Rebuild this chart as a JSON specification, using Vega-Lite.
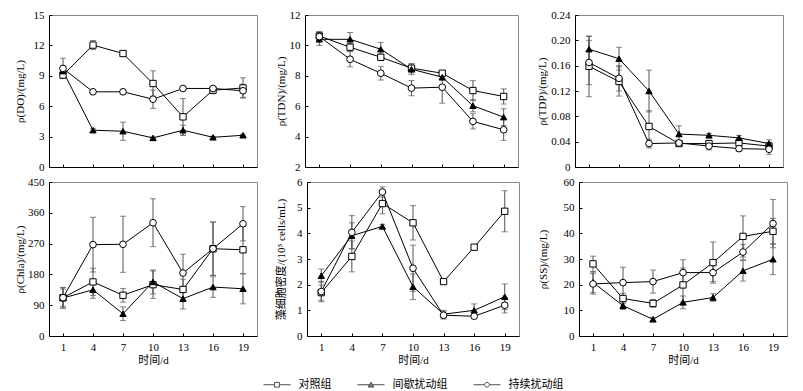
{
"$schema":"https://vega.github.io/schema/vega-lite/v6.json",
"padding":{"left":13,"top":8,"right":5,"bottom":0},
"background":"white",
"config":{
 "view":{"stroke":"#888","strokeWidth":1},
 "axis":{"labelFont":"Liberation Serif","labelFontSize":11,"labelColor":"black","titleFont":"Liberation Serif, Noto Sans CJK SC","titleFontSize":11,"titleFontWeight":"normal","titleColor":"black","tickSize":-3,"tickColor":"black","domainColor":"black","grid":false,"labelPadding":8,"labelOverlap":false},
 "legend":{"labelFont":"Noto Sans CJK SC","labelFontSize":11,"labelColor":"black","symbolSize":36,"labelOffset":16,"columnPadding":24,"padding":0}
},
"data":{"values":[
{"p":"DO","g":"对照组","d":1,"v":9.07,"lo":8.77,"hi":9.37},
{"p":"DO","g":"对照组","d":4,"v":12.03,"lo":11.58,"hi":12.48},
{"p":"DO","g":"对照组","d":7,"v":11.2,"lo":11.05,"hi":11.35},
{"p":"DO","g":"对照组","d":10,"v":8.24,"lo":6.99,"hi":9.49},
{"p":"DO","g":"对照组","d":13,"v":4.95,"lo":3.15,"hi":6.75},
{"p":"DO","g":"对照组","d":16,"v":7.58,"lo":7.23,"hi":7.93},
{"p":"DO","g":"对照组","d":19,"v":7.8,"lo":6.8,"hi":8.8},
{"p":"DO","g":"间歇扰动组","d":1,"v":9.46,"lo":9.16,"hi":9.76},
{"p":"DO","g":"间歇扰动组","d":4,"v":3.63,"lo":3.48,"hi":3.78},
{"p":"DO","g":"间歇扰动组","d":7,"v":3.53,"lo":2.63,"hi":4.43},
{"p":"DO","g":"间歇扰动组","d":10,"v":2.87,"lo":2.77,"hi":2.97},
{"p":"DO","g":"间歇扰动组","d":13,"v":3.63,"lo":3.13,"hi":4.13},
{"p":"DO","g":"间歇扰动组","d":16,"v":2.93,"lo":2.83,"hi":3.03},
{"p":"DO","g":"间歇扰动组","d":19,"v":3.13,"lo":3.03,"hi":3.23},
{"p":"DO","g":"持续扰动组","d":1,"v":9.73,"lo":8.73,"hi":10.73},
{"p":"DO","g":"持续扰动组","d":4,"v":7.42,"lo":7.32,"hi":7.52},
{"p":"DO","g":"持续扰动组","d":7,"v":7.42,"lo":7.32,"hi":7.52},
{"p":"DO","g":"持续扰动组","d":10,"v":6.69,"lo":5.79,"hi":7.59},
{"p":"DO","g":"持续扰动组","d":13,"v":7.75,"lo":7.6,"hi":7.9},
{"p":"DO","g":"持续扰动组","d":16,"v":7.75,"lo":7.6,"hi":7.9},
{"p":"DO","g":"持续扰动组","d":19,"v":7.52,"lo":6.87,"hi":8.17},
{"p":"TDN","g":"对照组","d":1,"v":10.62,"lo":10.32,"hi":10.92},
{"p":"TDN","g":"对照组","d":4,"v":9.88,"lo":9.63,"hi":10.13},
{"p":"TDN","g":"对照组","d":7,"v":9.22,"lo":9.02,"hi":9.42},
{"p":"TDN","g":"对照组","d":10,"v":8.5,"lo":8.2,"hi":8.8},
{"p":"TDN","g":"对照组","d":13,"v":8.17,"lo":8.02,"hi":8.32},
{"p":"TDN","g":"对照组","d":16,"v":7.03,"lo":6.38,"hi":7.68},
{"p":"TDN","g":"对照组","d":19,"v":6.64,"lo":6.14,"hi":7.14},
{"p":"TDN","g":"间歇扰动组","d":1,"v":10.4,"lo":10.0,"hi":10.8},
{"p":"TDN","g":"间歇扰动组","d":4,"v":10.4,"lo":9.95,"hi":10.85},
{"p":"TDN","g":"间歇扰动组","d":7,"v":9.75,"lo":9.3,"hi":10.2},
{"p":"TDN","g":"间歇扰动组","d":10,"v":8.43,"lo":8.08,"hi":8.78},
{"p":"TDN","g":"间歇扰动组","d":13,"v":7.91,"lo":7.71,"hi":8.11},
{"p":"TDN","g":"间歇扰动组","d":16,"v":6.03,"lo":5.63,"hi":6.43},
{"p":"TDN","g":"间歇扰动组","d":19,"v":5.28,"lo":4.73,"hi":5.83},
{"p":"TDN","g":"持续扰动组","d":1,"v":10.58,"lo":10.28,"hi":10.88},
{"p":"TDN","g":"持续扰动组","d":4,"v":9.09,"lo":8.59,"hi":9.59},
{"p":"TDN","g":"持续扰动组","d":7,"v":8.17,"lo":7.72,"hi":8.62},
{"p":"TDN","g":"持续扰动组","d":10,"v":7.19,"lo":6.69,"hi":7.69},
{"p":"TDN","g":"持续扰动组","d":13,"v":7.25,"lo":6.2,"hi":8.3},
{"p":"TDN","g":"持续扰动组","d":16,"v":5.0,"lo":4.5,"hi":5.5},
{"p":"TDN","g":"持续扰动组","d":19,"v":4.45,"lo":3.75,"hi":5.15},
{"p":"TDP","g":"对照组","d":1,"v":0.159,"lo":0.111,"hi":0.207},
{"p":"TDP","g":"对照组","d":4,"v":0.135,"lo":0.112,"hi":0.158},
{"p":"TDP","g":"对照组","d":7,"v":0.064,"lo":0.039,"hi":0.089},
{"p":"TDP","g":"对照组","d":10,"v":0.037,"lo":0.033,"hi":0.041},
{"p":"TDP","g":"对照组","d":13,"v":0.037,"lo":0.032,"hi":0.042},
{"p":"TDP","g":"对照组","d":16,"v":0.038,"lo":0.033,"hi":0.043},
{"p":"TDP","g":"对照组","d":19,"v":0.033,"lo":0.027,"hi":0.039},
{"p":"TDP","g":"间歇扰动组","d":1,"v":0.186,"lo":0.166,"hi":0.206},
{"p":"TDP","g":"间歇扰动组","d":4,"v":0.171,"lo":0.153,"hi":0.189},
{"p":"TDP","g":"间歇扰动组","d":7,"v":0.120,"lo":0.087,"hi":0.153},
{"p":"TDP","g":"间歇扰动组","d":10,"v":0.052,"lo":0.039,"hi":0.065},
{"p":"TDP","g":"间歇扰动组","d":13,"v":0.050,"lo":0.047,"hi":0.053},
{"p":"TDP","g":"间歇扰动组","d":16,"v":0.046,"lo":0.042,"hi":0.050},
{"p":"TDP","g":"间歇扰动组","d":19,"v":0.037,"lo":0.031,"hi":0.043},
{"p":"TDP","g":"持续扰动组","d":1,"v":0.165,"lo":0.130,"hi":0.200},
{"p":"TDP","g":"持续扰动组","d":4,"v":0.140,"lo":0.120,"hi":0.160},
{"p":"TDP","g":"持续扰动组","d":7,"v":0.037,"lo":0.030,"hi":0.044},
{"p":"TDP","g":"持续扰动组","d":10,"v":0.038,"lo":0.034,"hi":0.042},
{"p":"TDP","g":"持续扰动组","d":13,"v":0.033,"lo":0.027,"hi":0.039},
{"p":"TDP","g":"持续扰动组","d":16,"v":0.029,"lo":0.025,"hi":0.033},
{"p":"TDP","g":"持续扰动组","d":19,"v":0.028,"lo":0.020,"hi":0.036},
{"p":"Chla","g":"对照组","d":1,"v":112,"lo":82,"hi":142},
{"p":"Chla","g":"对照组","d":4,"v":158,"lo":118,"hi":198},
{"p":"Chla","g":"对照组","d":7,"v":119,"lo":99,"hi":139},
{"p":"Chla","g":"对照组","d":10,"v":150,"lo":110,"hi":190},
{"p":"Chla","g":"对照组","d":13,"v":136,"lo":106,"hi":166},
{"p":"Chla","g":"对照组","d":16,"v":255,"lo":177,"hi":333},
{"p":"Chla","g":"对照组","d":19,"v":252,"lo":182,"hi":322},
{"p":"Chla","g":"间歇扰动组","d":1,"v":111,"lo":81,"hi":141},
{"p":"Chla","g":"间歇扰动组","d":4,"v":135,"lo":110,"hi":160},
{"p":"Chla","g":"间歇扰动组","d":7,"v":65,"lo":45,"hi":85},
{"p":"Chla","g":"间歇扰动组","d":10,"v":158,"lo":123,"hi":193},
{"p":"Chla","g":"间歇扰动组","d":13,"v":109,"lo":79,"hi":139},
{"p":"Chla","g":"间歇扰动组","d":16,"v":143,"lo":113,"hi":173},
{"p":"Chla","g":"间歇扰动组","d":19,"v":138,"lo":94,"hi":182},
{"p":"Chla","g":"持续扰动组","d":1,"v":112,"lo":87,"hi":137},
{"p":"Chla","g":"持续扰动组","d":4,"v":267,"lo":187,"hi":347},
{"p":"Chla","g":"持续扰动组","d":7,"v":268,"lo":186,"hi":350},
{"p":"Chla","g":"持续扰动组","d":10,"v":331,"lo":261,"hi":401},
{"p":"Chla","g":"持续扰动组","d":13,"v":184,"lo":129,"hi":239},
{"p":"Chla","g":"持续扰动组","d":16,"v":255,"lo":177,"hi":333},
{"p":"Chla","g":"持续扰动组","d":19,"v":328,"lo":278,"hi":378},
{"p":"Algae","g":"对照组","d":1,"v":1.69,"lo":1.39,"hi":1.99},
{"p":"Algae","g":"对照组","d":4,"v":3.10,"lo":2.5,"hi":3.7},
{"p":"Algae","g":"对照组","d":7,"v":5.16,"lo":4.76,"hi":5.56},
{"p":"Algae","g":"对照组","d":10,"v":4.41,"lo":3.74,"hi":5.08},
{"p":"Algae","g":"对照组","d":13,"v":2.12,"lo":2.07,"hi":2.17},
{"p":"Algae","g":"对照组","d":16,"v":3.46,"lo":3.41,"hi":3.51},
{"p":"Algae","g":"对照组","d":19,"v":4.86,"lo":4.06,"hi":5.66},
{"p":"Algae","g":"间歇扰动组","d":1,"v":2.35,"lo":2.09,"hi":2.61},
{"p":"Algae","g":"间歇扰动组","d":4,"v":3.91,"lo":3.41,"hi":4.41},
{"p":"Algae","g":"间歇扰动组","d":7,"v":4.27,"lo":4.19,"hi":4.35},
{"p":"Algae","g":"间歇扰动组","d":10,"v":1.92,"lo":1.42,"hi":2.42},
{"p":"Algae","g":"间歇扰动组","d":13,"v":0.85,"lo":0.7,"hi":1.0},
{"p":"Algae","g":"间歇扰动组","d":16,"v":1.0,"lo":0.75,"hi":1.25},
{"p":"Algae","g":"间歇扰动组","d":19,"v":1.53,"lo":1.03,"hi":2.03},
{"p":"Algae","g":"持续扰动组","d":1,"v":1.73,"lo":1.33,"hi":2.13},
{"p":"Algae","g":"持续扰动组","d":4,"v":4.04,"lo":3.39,"hi":4.69},
{"p":"Algae","g":"持续扰动组","d":7,"v":5.61,"lo":5.41,"hi":5.81},
{"p":"Algae","g":"持续扰动组","d":10,"v":2.64,"lo":1.74,"hi":3.54},
{"p":"Algae","g":"持续扰动组","d":13,"v":0.81,"lo":0.66,"hi":0.96},
{"p":"Algae","g":"持续扰动组","d":16,"v":0.77,"lo":0.72,"hi":0.82},
{"p":"Algae","g":"持续扰动组","d":19,"v":1.2,"lo":0.9,"hi":1.5},
{"p":"SS","g":"对照组","d":1,"v":28.1,"lo":25.1,"hi":31.1},
{"p":"SS","g":"对照组","d":4,"v":14.6,"lo":12.6,"hi":16.6},
{"p":"SS","g":"对照组","d":7,"v":12.7,"lo":11.2,"hi":14.2},
{"p":"SS","g":"对照组","d":10,"v":19.9,"lo":13.3,"hi":26.5},
{"p":"SS","g":"对照组","d":13,"v":28.6,"lo":20.6,"hi":36.6},
{"p":"SS","g":"对照组","d":16,"v":38.8,"lo":30.8,"hi":46.8},
{"p":"SS","g":"对照组","d":19,"v":40.8,"lo":35.8,"hi":45.8},
{"p":"SS","g":"间歇扰动组","d":1,"v":20.9,"lo":16.9,"hi":24.9},
{"p":"SS","g":"间歇扰动组","d":4,"v":11.8,"lo":10.3,"hi":13.3},
{"p":"SS","g":"间歇扰动组","d":7,"v":6.5,"lo":5.7,"hi":7.3},
{"p":"SS","g":"间歇扰动组","d":10,"v":13.1,"lo":10.6,"hi":15.6},
{"p":"SS","g":"间歇扰动组","d":13,"v":15.0,"lo":13.5,"hi":16.5},
{"p":"SS","g":"间歇扰动组","d":16,"v":25.4,"lo":21.4,"hi":29.4},
{"p":"SS","g":"间歇扰动组","d":19,"v":29.9,"lo":23.9,"hi":35.9},
{"p":"SS","g":"持续扰动组","d":1,"v":20.3,"lo":16.3,"hi":24.3},
{"p":"SS","g":"持续扰动组","d":4,"v":20.8,"lo":14.8,"hi":26.8},
{"p":"SS","g":"持续扰动组","d":7,"v":21.2,"lo":16.7,"hi":25.7},
{"p":"SS","g":"持续扰动组","d":10,"v":24.7,"lo":19.7,"hi":29.7},
{"p":"SS","g":"持续扰动组","d":13,"v":24.7,"lo":21.2,"hi":28.2},
{"p":"SS","g":"持续扰动组","d":16,"v":32.7,"lo":29.7,"hi":35.7},
{"p":"SS","g":"持续扰动组","d":19,"v":43.8,"lo":34.4,"hi":53.2}
]},
"spacing":2,
"vconcat":[
{"spacing":16,"hconcat":[
 {"width":208,"height":152,"transform":[{"filter":"datum.p==='DO'"}],
  "encoding":{"x":{"field":"d","type":"quantitative","scale":{"domain":[-0.4,20.4],"nice":false,"zero":false},"axis":{"values":[1,4,7,10,13,16,19],"tickCount":20,"format":"d","labels":false,"title":null,"minExtent":0,"maxExtent":0}}},
  "layer":[
   {"mark":{"type":"errorbar","color":"#555","ticks":{"size":6}},"encoding":{"y":{"field":"lo","type":"quantitative","scale":{"domain":[0,15],"nice":false,"zero":false},"axis":{"values":[0,3,6,9,12,15],"tickCount":20,"format":"d","labelOverlap":false,"title":"ρ(DO)/(mg/L)","minExtent":16,"maxExtent":16,"titlePadding":8}},"y2":{"field":"hi"}}},
   {"mark":{"type":"line","color":"black","strokeWidth":1},"encoding":{"y":{"field":"v","type":"quantitative"},"detail":{"field":"g","type":"nominal"}}},
   {"transform":[{"filter":"datum.g==='对照组'"}],"mark":{"type":"point","shape":"square","filled":true,"fill":"white","stroke":"black","strokeWidth":1,"size":40,"opacity":1},"encoding":{"y":{"field":"v","type":"quantitative"}}},
   {"transform":[{"filter":"datum.g==='间歇扰动组'"}],"mark":{"type":"point","shape":"triangle-up","filled":true,"fill":"black","stroke":"black","strokeWidth":1,"size":40,"opacity":1},"encoding":{"y":{"field":"v","type":"quantitative"}}},
   {"transform":[{"filter":"datum.g==='持续扰动组'"}],"mark":{"type":"point","shape":"circle","filled":true,"fill":"white","stroke":"black","strokeWidth":1,"size":45,"opacity":1},"encoding":{"y":{"field":"v","type":"quantitative"}}},
   {"mark":{"type":"point","filled":true,"size":0,"stroke":"black","strokeWidth":1},"encoding":{"y":{"field":"v","type":"quantitative"},
    "shape":{"field":"g","type":"nominal","scale":{"domain":["对照组","间歇扰动组","持续扰动组"],"range":["M-4.5,0H-0.8M0.8,0H4.5M-0.8,-0.8H0.8V0.8H-0.8Z","M-4.5,0H-0.5M0.5,0H4.5M0,-0.85L0.95,0.75H-0.95Z","M-4.5,0H-0.8M0.8,0H4.5M0.8,0A0.8,0.8,0,1,1,-0.8,0A0.8,0.8,0,1,1,0.8,0Z"]},"legend":{"title":null,"orient":"none","legendX":222.5,"legendY":364,"direction":"horizontal","symbolStrokeWidth":1}},
    "fill":{"field":"g","type":"nominal","scale":{"domain":["对照组","间歇扰动组","持续扰动组"],"range":["white","black","white"]},"legend":{"title":null,"orient":"none","legendX":222.5,"legendY":364,"direction":"horizontal","symbolStrokeWidth":1}}}}
  ]},
 {"width":213,"height":152,"transform":[{"filter":"datum.p==='TDN'"}],
  "encoding":{"x":{"field":"d","type":"quantitative","scale":{"domain":[-0.4,20.4],"nice":false,"zero":false},"axis":{"values":[1,4,7,10,13,16,19],"tickCount":20,"format":"d","labels":false,"title":null,"minExtent":0,"maxExtent":0}}},
  "layer":[
   {"mark":{"type":"errorbar","color":"#555","ticks":{"size":6}},"encoding":{"y":{"field":"lo","type":"quantitative","scale":{"domain":[2,12],"nice":false,"zero":false},"axis":{"values":[2,4,6,8,10,12],"tickCount":20,"format":"d","labelOverlap":false,"title":"ρ(TDN)/(mg/L)","minExtent":16,"maxExtent":16,"titlePadding":3}},"y2":{"field":"hi"}}},
   {"mark":{"type":"line","color":"black","strokeWidth":1},"encoding":{"y":{"field":"v","type":"quantitative"},"detail":{"field":"g","type":"nominal"}}},
   {"transform":[{"filter":"datum.g==='对照组'"}],"mark":{"type":"point","shape":"square","filled":true,"fill":"white","stroke":"black","strokeWidth":1,"size":40,"opacity":1},"encoding":{"y":{"field":"v","type":"quantitative"}}},
   {"transform":[{"filter":"datum.g==='间歇扰动组'"}],"mark":{"type":"point","shape":"triangle-up","filled":true,"fill":"black","stroke":"black","strokeWidth":1,"size":40,"opacity":1},"encoding":{"y":{"field":"v","type":"quantitative"}}},
   {"transform":[{"filter":"datum.g==='持续扰动组'"}],"mark":{"type":"point","shape":"circle","filled":true,"fill":"white","stroke":"black","strokeWidth":1,"size":45,"opacity":1},"encoding":{"y":{"field":"v","type":"quantitative"}}}
  ]},
 {"width":208,"height":152,"transform":[{"filter":"datum.p==='TDP'"}],
  "encoding":{"x":{"field":"d","type":"quantitative","scale":{"domain":[-0.4,20.4],"nice":false,"zero":false},"axis":{"values":[1,4,7,10,13,16,19],"tickCount":20,"format":"d","labels":false,"title":null,"minExtent":0,"maxExtent":0}}},
  "layer":[
   {"mark":{"type":"errorbar","color":"#555","ticks":{"size":6}},"encoding":{"y":{"field":"lo","type":"quantitative","scale":{"domain":[0,0.24],"nice":false,"zero":false},"axis":{"values":[0,0.04,0.08,0.12,0.16,0.2,0.24],"tickCount":20,"labelOverlap":false,"labelExpr":"datum.value===0 ? '0' : format(datum.value,'.2f')","title":"ρ(TDP)/(mg/L)","minExtent":24.5,"maxExtent":24.5,"titlePadding":3.5}},"y2":{"field":"hi"}}},
   {"mark":{"type":"line","color":"black","strokeWidth":1},"encoding":{"y":{"field":"v","type":"quantitative"},"detail":{"field":"g","type":"nominal"}}},
   {"transform":[{"filter":"datum.g==='对照组'"}],"mark":{"type":"point","shape":"square","filled":true,"fill":"white","stroke":"black","strokeWidth":1,"size":40,"opacity":1},"encoding":{"y":{"field":"v","type":"quantitative"}}},
   {"transform":[{"filter":"datum.g==='间歇扰动组'"}],"mark":{"type":"point","shape":"triangle-up","filled":true,"fill":"black","stroke":"black","strokeWidth":1,"size":40,"opacity":1},"encoding":{"y":{"field":"v","type":"quantitative"}}},
   {"transform":[{"filter":"datum.g==='持续扰动组'"}],"mark":{"type":"point","shape":"circle","filled":true,"fill":"white","stroke":"black","strokeWidth":1,"size":45,"opacity":1},"encoding":{"y":{"field":"v","type":"quantitative"}}}
  ]}
]},
{"spacing":17,"hconcat":[
 {"width":208,"height":154,"transform":[{"filter":"datum.p==='Chla'"}],
  "encoding":{"x":{"field":"d","type":"quantitative","scale":{"domain":[-0.4,20.4],"nice":false,"zero":false},"axis":{"values":[1,4,7,10,13,16,19],"tickCount":20,"format":"d","title":"时间/d","titlePadding":2}}},
  "layer":[
   {"mark":{"type":"errorbar","color":"#555","ticks":{"size":6}},"encoding":{"y":{"field":"lo","type":"quantitative","scale":{"domain":[0,450],"nice":false,"zero":false},"axis":{"values":[0,90,180,270,360,450],"tickCount":20,"format":"d","labelOverlap":false,"title":"ρ(Chla)/(mg/L)","minExtent":22,"maxExtent":22,"titlePadding":2}},"y2":{"field":"hi"}}},
   {"mark":{"type":"line","color":"black","strokeWidth":1},"encoding":{"y":{"field":"v","type":"quantitative"},"detail":{"field":"g","type":"nominal"}}},
   {"transform":[{"filter":"datum.g==='对照组'"}],"mark":{"type":"point","shape":"square","filled":true,"fill":"white","stroke":"black","strokeWidth":1,"size":40,"opacity":1},"encoding":{"y":{"field":"v","type":"quantitative"}}},
   {"transform":[{"filter":"datum.g==='间歇扰动组'"}],"mark":{"type":"point","shape":"triangle-up","filled":true,"fill":"black","stroke":"black","strokeWidth":1,"size":40,"opacity":1},"encoding":{"y":{"field":"v","type":"quantitative"}}},
   {"transform":[{"filter":"datum.g==='持续扰动组'"}],"mark":{"type":"point","shape":"circle","filled":true,"fill":"white","stroke":"black","strokeWidth":1,"size":45,"opacity":1},"encoding":{"y":{"field":"v","type":"quantitative"}}}
  ]},
 {"width":212,"height":154,"transform":[{"filter":"datum.p==='Algae'"}],
  "encoding":{"x":{"field":"d","type":"quantitative","scale":{"domain":[-0.4,20.4],"nice":false,"zero":false},"axis":{"values":[1,4,7,10,13,16,19],"tickCount":20,"format":"d","title":"时间/d","titlePadding":2}}},
  "layer":[
   {"mark":{"type":"errorbar","color":"#555","ticks":{"size":6}},"encoding":{"y":{"field":"lo","type":"quantitative","scale":{"domain":[0,6],"nice":false,"zero":false},"axis":{"values":[0,1,2,3,4,5,6],"tickCount":20,"format":"d","labelOverlap":false,"title":"藻细胞密度/(10⁵ cells/mL)","minExtent":11,"maxExtent":11,"titlePadding":9.5}},"y2":{"field":"hi"}}},
   {"mark":{"type":"line","color":"black","strokeWidth":1},"encoding":{"y":{"field":"v","type":"quantitative"},"detail":{"field":"g","type":"nominal"}}},
   {"transform":[{"filter":"datum.g==='对照组'"}],"mark":{"type":"point","shape":"square","filled":true,"fill":"white","stroke":"black","strokeWidth":1,"size":40,"opacity":1},"encoding":{"y":{"field":"v","type":"quantitative"}}},
   {"transform":[{"filter":"datum.g==='间歇扰动组'"}],"mark":{"type":"point","shape":"triangle-up","filled":true,"fill":"black","stroke":"black","strokeWidth":1,"size":40,"opacity":1},"encoding":{"y":{"field":"v","type":"quantitative"}}},
   {"transform":[{"filter":"datum.g==='持续扰动组'"}],"mark":{"type":"point","shape":"circle","filled":true,"fill":"white","stroke":"black","strokeWidth":1,"size":45,"opacity":1},"encoding":{"y":{"field":"v","type":"quantitative"}}}
  ]},
 {"width":208,"height":154,"transform":[{"filter":"datum.p==='SS'"}],
  "encoding":{"x":{"field":"d","type":"quantitative","scale":{"domain":[-0.4,20.4],"nice":false,"zero":false},"axis":{"values":[1,4,7,10,13,16,19],"tickCount":20,"format":"d","title":"时间/d","titlePadding":2}}},
  "layer":[
   {"mark":{"type":"errorbar","color":"#555","ticks":{"size":6}},"encoding":{"y":{"field":"lo","type":"quantitative","scale":{"domain":[0,60],"nice":false,"zero":false},"axis":{"values":[0,10,20,30,40,50,60],"tickCount":20,"format":"d","labelOverlap":false,"title":"ρ(SS)/(mg/L)","minExtent":16,"maxExtent":16,"titlePadding":14.5}},"y2":{"field":"hi"}}},
   {"mark":{"type":"line","color":"black","strokeWidth":1},"encoding":{"y":{"field":"v","type":"quantitative"},"detail":{"field":"g","type":"nominal"}}},
   {"transform":[{"filter":"datum.g==='对照组'"}],"mark":{"type":"point","shape":"square","filled":true,"fill":"white","stroke":"black","strokeWidth":1,"size":40,"opacity":1},"encoding":{"y":{"field":"v","type":"quantitative"}}},
   {"transform":[{"filter":"datum.g==='间歇扰动组'"}],"mark":{"type":"point","shape":"triangle-up","filled":true,"fill":"black","stroke":"black","strokeWidth":1,"size":40,"opacity":1},"encoding":{"y":{"field":"v","type":"quantitative"}}},
   {"transform":[{"filter":"datum.g==='持续扰动组'"}],"mark":{"type":"point","shape":"circle","filled":true,"fill":"white","stroke":"black","strokeWidth":1,"size":45,"opacity":1},"encoding":{"y":{"field":"v","type":"quantitative"}}}
  ]}
]}
]
}
